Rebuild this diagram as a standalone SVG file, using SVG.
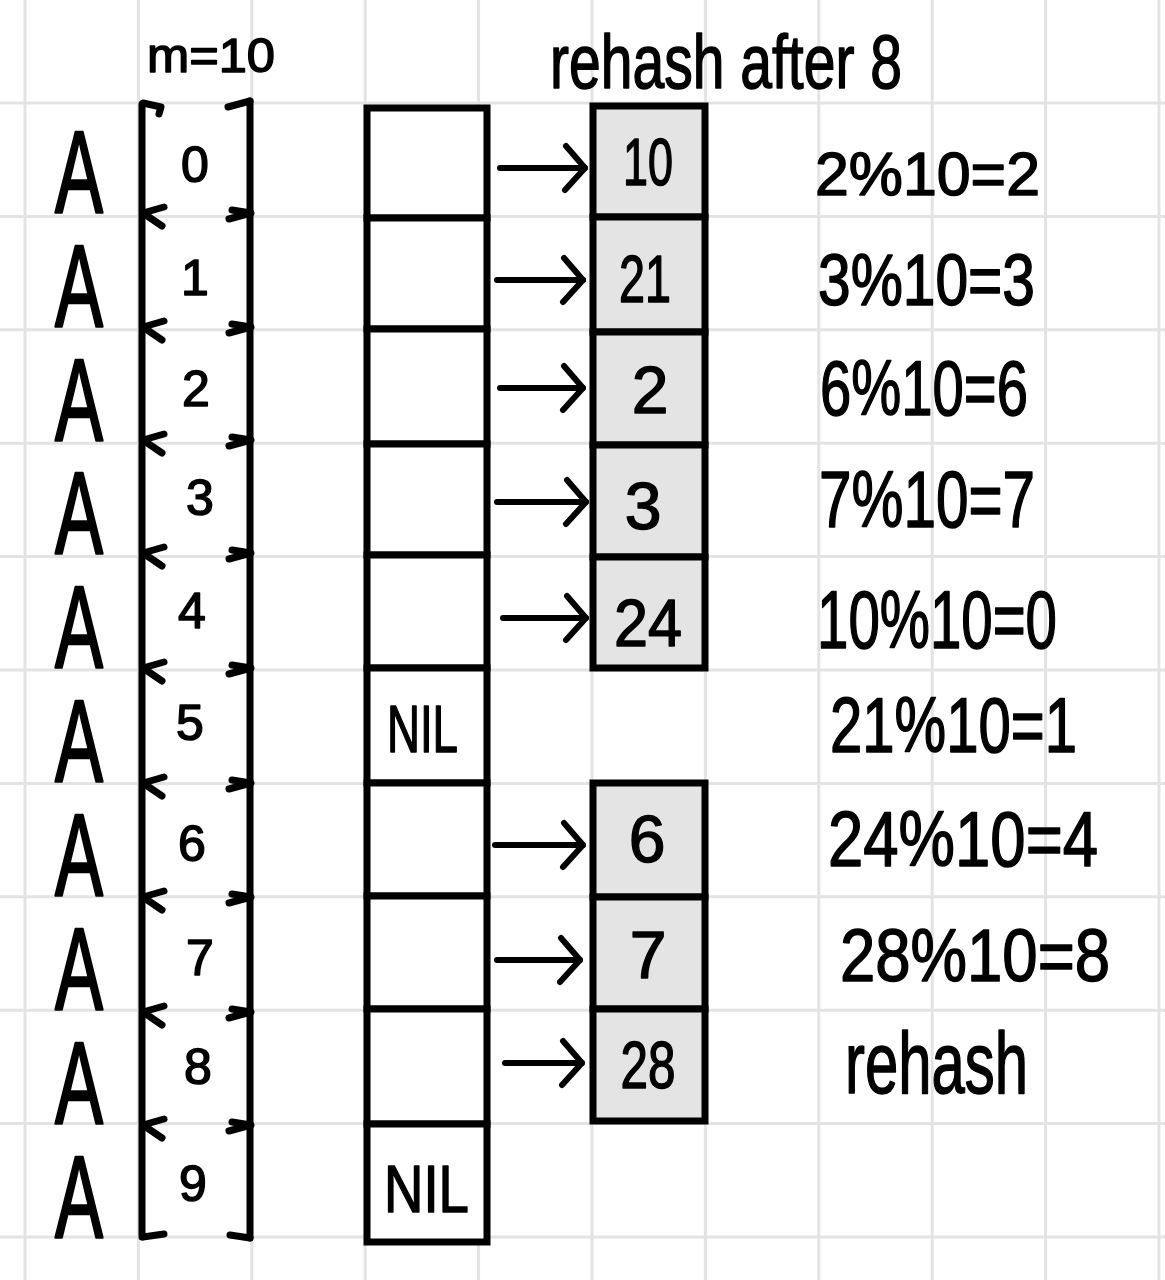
<svg xmlns="http://www.w3.org/2000/svg" width="1165" height="1280" viewBox="0 0 1165 1280">
<defs>
<style>
.grid line{stroke:#e3e3e3;stroke-width:3}
.ink{stroke:#000;stroke-width:7;fill:none;stroke-linecap:round;stroke-linejoin:round}
.cell{fill:#fff;stroke:#000;stroke-width:7}
.gcell{fill:#e4e4e4;stroke:#000;stroke-width:7}
.hw{font-family:"Liberation Sans",Arial,sans-serif;fill:#000;stroke:#000;stroke-width:1.5;stroke-linejoin:round}
.bigA{font-size:116px;stroke-width:2.5}
.idx{font-size:50px;text-anchor:middle}
.val{font-size:66px;text-anchor:middle}
.conn{stroke:#000;stroke-width:6;fill:none;stroke-linecap:round}
</style>
<marker id="chev" viewBox="0 0 26 48" refX="23" refY="24" markerWidth="26" markerHeight="48" markerUnits="userSpaceOnUse" orient="auto" overflow="visible">
<path d="M4,2 L23,24 L3,46" fill="none" stroke="#000" stroke-width="6" stroke-linecap="round" stroke-linejoin="round"/>
</marker>
</defs>
<rect width="1165" height="1280" fill="#fff"/>
<g class="grid">
<line x1="25" y1="0" x2="25" y2="1280"/>
<line x1="138.4" y1="0" x2="138.4" y2="1280"/>
<line x1="251.8" y1="0" x2="251.8" y2="1280"/>
<line x1="365.2" y1="0" x2="365.2" y2="1280"/>
<line x1="478.6" y1="0" x2="478.6" y2="1280"/>
<line x1="592" y1="0" x2="592" y2="1280"/>
<line x1="705.4" y1="0" x2="705.4" y2="1280"/>
<line x1="818.8" y1="0" x2="818.8" y2="1280"/>
<line x1="932.2" y1="0" x2="932.2" y2="1280"/>
<line x1="1045.6" y1="0" x2="1045.6" y2="1280"/>
<line x1="1159" y1="0" x2="1159" y2="1280"/>
<line x1="0" y1="103" x2="1165" y2="103"/>
<line x1="0" y1="216.4" x2="1165" y2="216.4"/>
<line x1="0" y1="329.8" x2="1165" y2="329.8"/>
<line x1="0" y1="443.2" x2="1165" y2="443.2"/>
<line x1="0" y1="556.6" x2="1165" y2="556.6"/>
<line x1="0" y1="670" x2="1165" y2="670"/>
<line x1="0" y1="783.4" x2="1165" y2="783.4"/>
<line x1="0" y1="896.8" x2="1165" y2="896.8"/>
<line x1="0" y1="1010.2" x2="1165" y2="1010.2"/>
<line x1="0" y1="1123.6" x2="1165" y2="1123.6"/>
<line x1="0" y1="1237" x2="1165" y2="1237"/>
</g>

<g id="labels">
<text class="hw" x="147" y="72" font-size="48" textLength="128" lengthAdjust="spacingAndGlyphs">m=10</text>
<text class="hw" x="550" y="88" font-size="76" textLength="352" lengthAdjust="spacingAndGlyphs">rehash after 8</text>
</g>

<g id="brackets" class="ink">
<path d="M142,104 L142,1237"/>
<path d="M250,101 L250,1238"/>
<path d="M143,103 L161,107 L159,114"/>
<path d="M228,107 L250,101"/>
<path d="M164,207 L143,213 L162,226"/>
<path d="M229,219 L251,213 L232,210"/>
<path d="M164,321 L143,327 L162,340"/>
<path d="M229,333 L251,327 L232,324"/>
<path d="M164,434 L143,440 L162,453"/>
<path d="M229,446 L251,440 L232,437"/>
<path d="M164,547 L143,553 L162,566"/>
<path d="M229,559 L251,553 L232,550"/>
<path d="M164,662 L143,668 L162,681"/>
<path d="M229,674 L251,668 L232,665"/>
<path d="M164,777 L143,783 L162,796"/>
<path d="M229,789 L251,783 L232,780"/>
<path d="M164,891 L143,897 L162,910"/>
<path d="M229,903 L251,897 L232,894"/>
<path d="M164,1006 L143,1012 L162,1025"/>
<path d="M229,1018 L251,1012 L232,1009"/>
<path d="M164,1119 L143,1125 L162,1138"/>
<path d="M229,1131 L251,1125 L232,1122"/>
<path d="M143,1237 L164,1234"/>
<path d="M230,1235 L250,1238"/>
</g>

<g id="A-0"><text class="hw bigA" x="55" y="213" textLength="48" lengthAdjust="spacingAndGlyphs">A</text><text class="hw idx" x="195" y="182">0</text></g>
<g id="A-1"><text class="hw bigA" x="55" y="327" textLength="48" lengthAdjust="spacingAndGlyphs">A</text><text class="hw idx" x="195" y="295">1</text></g>
<g id="A-2"><text class="hw bigA" x="55" y="441" textLength="48" lengthAdjust="spacingAndGlyphs">A</text><text class="hw idx" x="196" y="406">2</text></g>
<g id="A-3"><text class="hw bigA" x="55" y="554" textLength="48" lengthAdjust="spacingAndGlyphs">A</text><text class="hw idx" x="200" y="515">3</text></g>
<g id="A-4"><text class="hw bigA" x="55" y="668" textLength="48" lengthAdjust="spacingAndGlyphs">A</text><text class="hw idx" x="192" y="628">4</text></g>
<g id="A-5"><text class="hw bigA" x="55" y="782" textLength="48" lengthAdjust="spacingAndGlyphs">A</text><text class="hw idx" x="190" y="740">5</text></g>
<g id="A-6"><text class="hw bigA" x="55" y="896" textLength="48" lengthAdjust="spacingAndGlyphs">A</text><text class="hw idx" x="192" y="861">6</text></g>
<g id="A-7"><text class="hw bigA" x="55" y="1010" textLength="48" lengthAdjust="spacingAndGlyphs">A</text><text class="hw idx" x="200" y="975">7</text></g>
<g id="A-8"><text class="hw bigA" x="55" y="1124" textLength="48" lengthAdjust="spacingAndGlyphs">A</text><text class="hw idx" x="198" y="1084">8</text></g>
<g id="A-9"><text class="hw bigA" x="55" y="1238" textLength="48" lengthAdjust="spacingAndGlyphs">A</text><text class="hw idx" x="193" y="1201">9</text></g>

<g id="table">
<g id="slot-0"><rect class="cell" x="367" y="108" width="120" height="110"/></g>
<g id="slot-1"><rect class="cell" x="367" y="218" width="120" height="111"/></g>
<g id="slot-2"><rect class="cell" x="367" y="329" width="120" height="115"/></g>
<g id="slot-3"><rect class="cell" x="367" y="444" width="120" height="111"/></g>
<g id="slot-4"><rect class="cell" x="367" y="555" width="120" height="113"/></g>
<g id="slot-5"><rect class="cell" x="367" y="668" width="120" height="115"/><text class="hw" x="387" y="752" font-size="66" textLength="71" lengthAdjust="spacingAndGlyphs">NIL</text></g>
<g id="slot-6"><rect class="cell" x="367" y="783" width="120" height="113"/></g>
<g id="slot-7"><rect class="cell" x="367" y="896" width="120" height="113"/></g>
<g id="slot-8"><rect class="cell" x="367" y="1009" width="120" height="115"/></g>
<g id="slot-9"><rect class="cell" x="367" y="1124" width="120" height="118"/><text class="hw" x="384" y="1212" font-size="66" textLength="85" lengthAdjust="spacingAndGlyphs">NIL</text></g>
</g>

<g id="chain-top">
<g id="n10"><rect class="gcell" x="593" y="106" width="112" height="111"/><text class="hw val" x="648" y="185" font-size="58" textLength="50" lengthAdjust="spacingAndGlyphs">10</text></g>
<g id="n21"><rect class="gcell" x="593" y="217" width="112" height="115"/><text class="hw val" x="645" y="302" textLength="52" lengthAdjust="spacingAndGlyphs">21</text></g>
<g id="n2"><rect class="gcell" x="593" y="332" width="112" height="113"/><text class="hw val" x="650" y="413">2</text></g>
<g id="n3"><rect class="gcell" x="593" y="445" width="112" height="112"/><text class="hw val" x="643" y="529">3</text></g>
<g id="n24"><rect class="gcell" x="593" y="557" width="112" height="111"/><text class="hw val" x="648" y="646" textLength="68" lengthAdjust="spacingAndGlyphs">24</text></g>
</g>
<g id="chain-bottom">
<g id="n6"><rect class="gcell" x="593" y="783" width="112" height="114"/><text class="hw val" x="647" y="862">6</text></g>
<g id="n7"><rect class="gcell" x="593" y="897" width="112" height="112"/><text class="hw val" x="648" y="978">7</text></g>
<g id="n28"><rect class="gcell" x="593" y="1009" width="112" height="112"/><text class="hw val" x="648" y="1088" textLength="55" lengthAdjust="spacingAndGlyphs">28</text></g>
</g>

<g id="connectors" class="conn">
<path d="M500,168 L585,168" marker-end="url(#chev)"/>
<path d="M497,280 L583,280" marker-end="url(#chev)"/>
<path d="M500,388 L583,388" marker-end="url(#chev)"/>
<path d="M497,502 L586,502" marker-end="url(#chev)"/>
<path d="M503,618 L586,618" marker-end="url(#chev)"/>
<path d="M495,845 L583,845" marker-end="url(#chev)"/>
<path d="M497,960 L580,960" marker-end="url(#chev)"/>
<path d="M505,1063 L582,1063" marker-end="url(#chev)"/>
</g>

<g id="hashes">
<g id="h2"><text class="hw" x="815" y="195" font-size="62" textLength="225" lengthAdjust="spacingAndGlyphs">2%10=2</text></g>
<g id="h3"><text class="hw" x="818" y="305" font-size="72" textLength="217" lengthAdjust="spacingAndGlyphs">3%10=3</text></g>
<g id="h6"><text class="hw" x="820" y="415" font-size="78" textLength="208" lengthAdjust="spacingAndGlyphs">6%10=6</text></g>
<g id="h7"><text class="hw" x="819" y="527" font-size="80" textLength="216" lengthAdjust="spacingAndGlyphs">7%10=7</text></g>
<g id="h10"><text class="hw" x="817" y="648" font-size="82" textLength="240" lengthAdjust="spacingAndGlyphs">10%10=0</text></g>
<g id="h21"><text class="hw" x="830" y="752" font-size="78" textLength="247" lengthAdjust="spacingAndGlyphs">21%10=1</text></g>
<g id="h24"><text class="hw" x="828" y="866" font-size="78" textLength="270" lengthAdjust="spacingAndGlyphs">24%10=4</text></g>
<g id="h28"><text class="hw" x="840" y="981" font-size="75" textLength="270" lengthAdjust="spacingAndGlyphs">28%10=8</text></g>
<g id="h-rehash"><text class="hw" x="845" y="1093" font-size="88" textLength="183" lengthAdjust="spacingAndGlyphs">rehash</text></g>
</g>
</svg>
